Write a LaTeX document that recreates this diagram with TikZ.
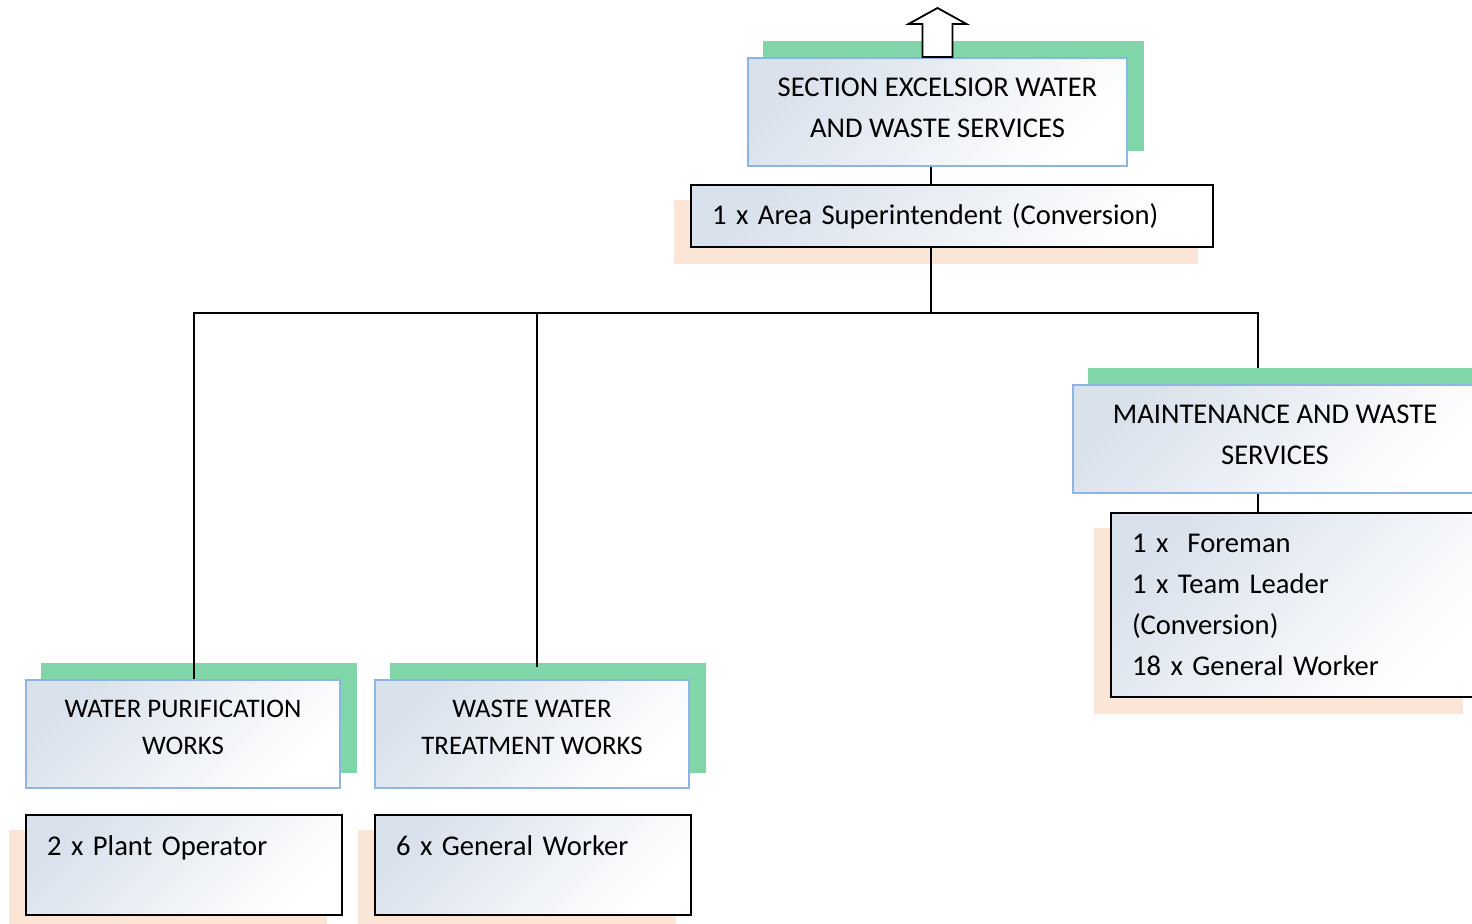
\documentclass[tikz,border=0pt]{standalone}
\usepackage{fontspec}
\setmainfont{Carlito}
\usetikzlibrary{calc,backgrounds}
\definecolor{UnitBlue}{HTML}{8EB4E3}
\definecolor{ShadowGreen}{HTML}{80D6A8}
\definecolor{ShadowPeach}{HTML}{FBE5D6}
\definecolor{BoxTint}{HTML}{D9E1EC}
\tikzset{
  unitbox/.style={rectangle, draw=UnitBlue, line width=1pt, top color=BoxTint, bottom color=white, shading angle=45, inner sep=0pt},
  unittext/.style={align=center, inner sep=0pt, font=\fontsize{14.3}{20.5}\selectfont},
  smalltext/.style={align=center, inner sep=0pt, font=\fontsize{13.4}{18.5}\selectfont},
  staffbox/.style={rectangle, draw=black, line width=1pt, top color=BoxTint, bottom color=white, shading angle=45, align=left, font=\fontsize{14.3}{20.6}\selectfont, inner xsep=10.5pt, inner ysep=0pt},
  greenshadow/.style={fill=ShadowGreen},
  peachshadow/.style={fill=ShadowPeach},
  link/.style={draw=black, line width=0.9pt},
  hollowarrow/.style={draw=black, fill=white, line width=0.9pt, line join=miter}
}
\begin{document}
\begin{tikzpicture}[x=0.5pt, y=-0.5pt]
  \clip (0,0) rectangle (1472,924);

  % units
  \node[unitbox, minimum width=189.5pt, minimum height=54pt] (sec) at (937.5,112) {};
  \node[unitbox, minimum width=202pt, minimum height=54pt] (mnt) at (1275,439) {};
  \node[unitbox, minimum width=157pt, minimum height=54pt] (wpw) at (183,734) {};
  \node[unitbox, minimum width=157pt, minimum height=54pt] (wwt) at (532,734) {};
  \node[unittext] (sectext) at ($(sec)+(0,-4.5)$) {SECTION EXCELSIOR WATER\\AND WASTE SERVICES};
  \node[unittext] (mnttext) at ($(mnt)+(0,-4)$) {MAINTENANCE AND WASTE\\SERVICES};
  \node[smalltext] (wpwtext) at ($(wpw)+(0,-6.5)$) {WATER PURIFICATION\\WORKS};
  \node[smalltext] (wwttext) at ($(wwt)+(0,-6.5)$) {WASTE WATER\\TREATMENT WORKS};

  % staff
  \node[staffbox, text width=240pt, minimum height=31pt] (sup) at (952,216) {1 x Area Superintendent (Conversion)};
  \node[staffbox, text width=162.5pt, minimum height=92pt] (mstaff) at (1294.5,605) {1 x\ \ Foreman\\1 x Team Leader\\(Conversion)\\18 x General Worker};
  \node[staffbox, text width=137pt, text height=20pt, text depth=30pt] (plant) at (184,865) {2 x Plant Operator};
  \node[staffbox, text width=137pt, text height=20pt, text depth=30pt] (gw) at (533,865) {6 x General Worker};

  % arrow up
  \draw[hollowarrow] ($(sec.north)+(-15,0)$) -- ++(0,-33) -- ++(-14,0) -- ++(29,-16) -- ++(29,16) -- ++(-14,0) -- ++(0,33) -- cycle;

  \begin{scope}[on background layer]
    % shadows
    \foreach \n in {sec,mnt,wpw,wwt}
      \fill[greenshadow] ($(\n.south west)+(16,-16)$) rectangle ($(\n.north east)+(16,-16)$);
    \foreach \n in {sup,mstaff,plant,gw}
      \fill[peachshadow] ($(\n.south west)+(-16,16)$) rectangle ($(\n.north east)+(-16,16)$);

    \coordinate (hub) at (931,313);
    \draw[link] (sec.south -| hub) -- (sup.north -| hub);
    \draw[link] (sup.south -| hub) -- (hub);
    \draw[link] (hub) -| ($(wpw.north)+(11,0)$);
    \draw[link] (hub) -| ($(wwt.north)+(5,-12)$);
    \draw[link] (hub) -| ($(mnt.north)+(-17,-16)$);
    \draw[link] ($(mnt.south)+(-17,0)$) -- ($(mstaff.north)+(-36.5,0)$);
  \end{scope}
\end{tikzpicture}
\end{document}
